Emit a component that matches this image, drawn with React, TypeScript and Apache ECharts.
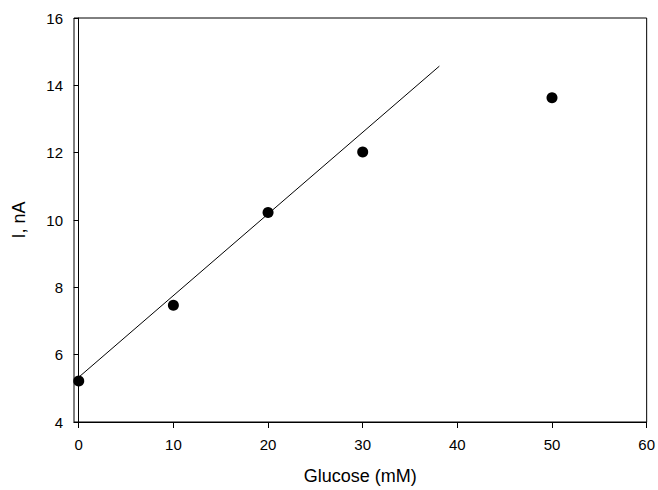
import React, { useEffect, useRef } from "react";
import * as echarts from "echarts";

const glucose = [0, 10, 20, 30, 50];
const current = [5.22, 7.47, 10.22, 12.02, 13.63];
const fitX = [0, 38.1];
const fitY = [5.33, 14.57];
const xTicks = [0, 10, 20, 30, 40, 50, 60];

export default function App() {
  const ref = useRef<HTMLDivElement>(null);
  useEffect(() => {
    if (!ref.current) return;
    const chart = echarts.init(ref.current, null, { renderer: "svg" });
    const font = "'Liberation Sans', Arial, sans-serif";
    chart.setOption({
      animation: false,
      backgroundColor: "#ffffff",
      grid: {
        left: 74,
        right: 10,
        top: 18,
        bottom: 68,
        show: true,
        borderColor: "#000",
        borderWidth: 1,
        backgroundColor: "transparent",
      },
      xAxis: {
        type: "value",
        min: -0.5,
        max: 60,
        name: "Glucose (mM)",
        nameLocation: "middle",
        nameGap: 45,
        nameTextStyle: { fontFamily: font, fontSize: 18, color: "#000" },
        axisLine: { show: true, lineStyle: { color: "#000", width: 1 } },
        axisTick: {
          show: true,
          length: 6,
          lineStyle: { color: "#000", width: 1 },
          customValues: xTicks,
        },
        axisLabel: {
          fontFamily: font,
          fontSize: 15,
          color: "#000",
          margin: 15,
          customValues: xTicks,
        },
        splitLine: { show: false },
      },
      yAxis: {
        type: "value",
        min: 4,
        max: 16,
        interval: 2,
        name: "I, nA",
        nameLocation: "middle",
        nameGap: 46,
        nameRotate: 90,
        nameTextStyle: { fontFamily: font, fontSize: 18, color: "#000" },
        axisLine: { show: true, lineStyle: { color: "#000", width: 1 } },
        axisTick: { show: true, length: 5, lineStyle: { color: "#000", width: 1 } },
        axisLabel: { fontFamily: font, fontSize: 15, color: "#000", margin: 11 },
        splitLine: { show: false },
      },
      series: [
        {
          type: "line",
          data: fitX.map((x, i) => [x, fitY[i]]),
          symbol: "none",
          lineStyle: { color: "#000", width: 1 },
          z: 2,
        },
        {
          type: "scatter",
          data: glucose.map((x, i) => [x, current[i]]),
          symbol: "circle",
          symbolSize: 11,
          itemStyle: { color: "#000", opacity: 1 },
          z: 3,
        },
      ],
    });
    return () => chart.dispose();
  }, []);
  return <div ref={ref} style={{ width: 658, height: 490, position: "absolute", left: 0, top: 0 }} />;
}
